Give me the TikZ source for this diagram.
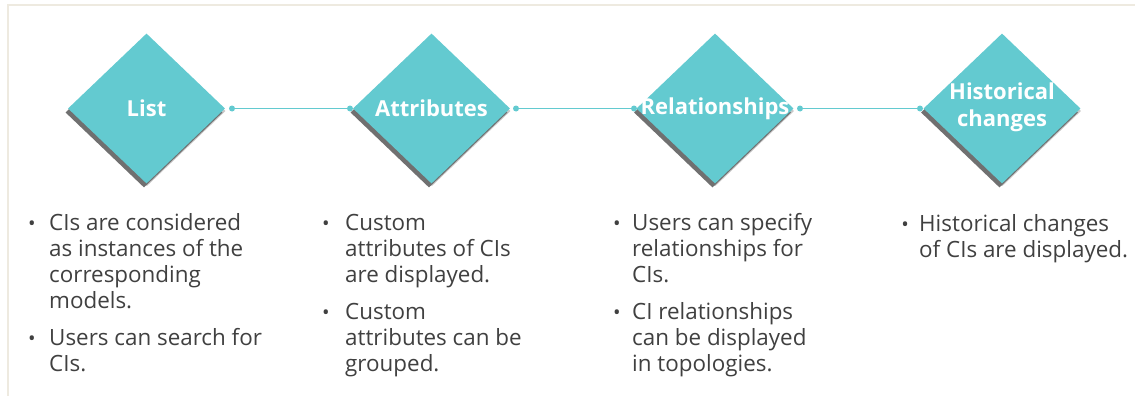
\documentclass[tikz,border=0pt]{standalone}
\usepackage{fontspec}
\setmainfont{Open Sans}
\usetikzlibrary{shapes.geometric}
\definecolor{tealfill}{HTML}{63CAD0}
\definecolor{txtgray}{HTML}{404040}
\definecolor{framecol}{HTML}{EEEAE0}
\definecolor{shadecol}{HTML}{707070}
\definecolor{shadelight}{HTML}{C8C8C8}
\begin{document}
\begin{tikzpicture}[x=1pt,y=-1pt,
  dia/.style={diamond, fill=tealfill, minimum width=157pt, minimum height=150pt, inner sep=0pt},
  diashadow/.style={diamond, fill=shadecol, minimum width=157pt, minimum height=150pt, inner sep=0pt},
  dialight/.style={diamond, fill=shadelight, minimum width=157pt, minimum height=150pt, inner sep=0pt},
  lbl/.style={text=white, font=\fontsize{22}{27}\selectfont\bfseries, align=center, inner sep=0pt},
  dotnode/.style={circle, fill=tealfill, minimum size=6pt, inner sep=0pt},
  conn/.style={draw=tealfill, line width=1.5pt},
  itemtext/.style={anchor=base west, text=txtgray, font=\fontsize{22.4}{26.3}\selectfont, align=left, inner sep=0pt},
  bul/.style={anchor=base, text=txtgray, font=\fontsize{20}{26.3}\selectfont, inner sep=0pt},
  framecolline/.style={draw=framecol, line width=2pt}
]
\useasboundingbox (0,0) rectangle (1135,396);
\fill[white] (0,0) rectangle (1135,396);
% frame
\coordinate (fbl) at (8,396);
\coordinate (ftl) at (8,5);
\coordinate (ftr) at (1135,5);
\draw[framecolline] (fbl) -- (ftl) -- (ftr);

% diamonds with shadows
\node[dialight] (l1) at (147,111) {};
\node[diashadow] (s1) at (144,112.5) {};
\node[dia] (d1) at (146.5,108.5) {};
\node[lbl] (t1) at (d1.center) {List};

\node[dialight] (l2) at (432,111) {};
\node[diashadow] (s2) at (429,112.5) {};
\node[dia] (d2) at (431.5,108.5) {};
\node[lbl] (t2) at (d2.center) {Attributes};

\node[dialight] (l3) at (715.5,111) {};
\node[diashadow] (s3) at (712.5,112.5) {};
\node[dia] (d3) at (715,108.5) {};
\node[lbl] (t3) at (d3.center) {Relationships};

\node[dialight] (l4) at (1002.5,111) {};
\node[diashadow] (s4) at (999.5,112.5) {};
\node[dia] (d4) at (1002,108.5) {};
\node[lbl] (t4) at ([yshift=1.5pt]d4.center) {Historical\\changes};

% connectors
\node[dotnode] (p1) at (232,108.5) {};
\node[dotnode] (p2) at (350,108.5) {};
\node[dotnode] (p3) at (516,108.5) {};
\node[dotnode] (p4) at (634,108.5) {};
\node[dotnode] (p5) at (800,108.5) {};
\node[dotnode] (p6) at (920,108.5) {};
\draw[conn] (p1) -- (p2);
\draw[conn] (p3) -- (p4);
\draw[conn] (p5) -- (p6);

% column 1 (anchor = baseline of last line)
\node[bul] (b11) at (32,230) {•};
\node[itemtext] (i11) at (49,308.9) {CIs are considered\\as instances of the\\corresponding\\models.};
\node[bul] (b12) at (32,345) {•};
\node[itemtext] (i12) at (49,371.3) {Users can search for\\CIs.};
% column 2
\node[bul] (b21) at (326,230) {•};
\node[itemtext] (i21) at (345,282.6) {Custom\\attributes of CIs\\are displayed.};
\node[bul] (b22) at (326,319) {•};
\node[itemtext] (i22) at (345,371.6) {Custom\\attributes can be\\grouped.};
% column 3
\node[bul] (b31) at (617,230) {•};
\node[itemtext] (i31) at (632,282.6) {Users can specify\\relationships for\\CIs.};
\node[bul] (b32) at (617,319) {•};
\node[itemtext] (i32) at (632,371.6) {CI relationships\\can be displayed\\in topologies.};
% column 4
\node[bul] (b41) at (905,231) {•};
\node[itemtext] (i41) at (919,257.3) {Historical changes\\of CIs are displayed.};
\end{tikzpicture}
\end{document}
